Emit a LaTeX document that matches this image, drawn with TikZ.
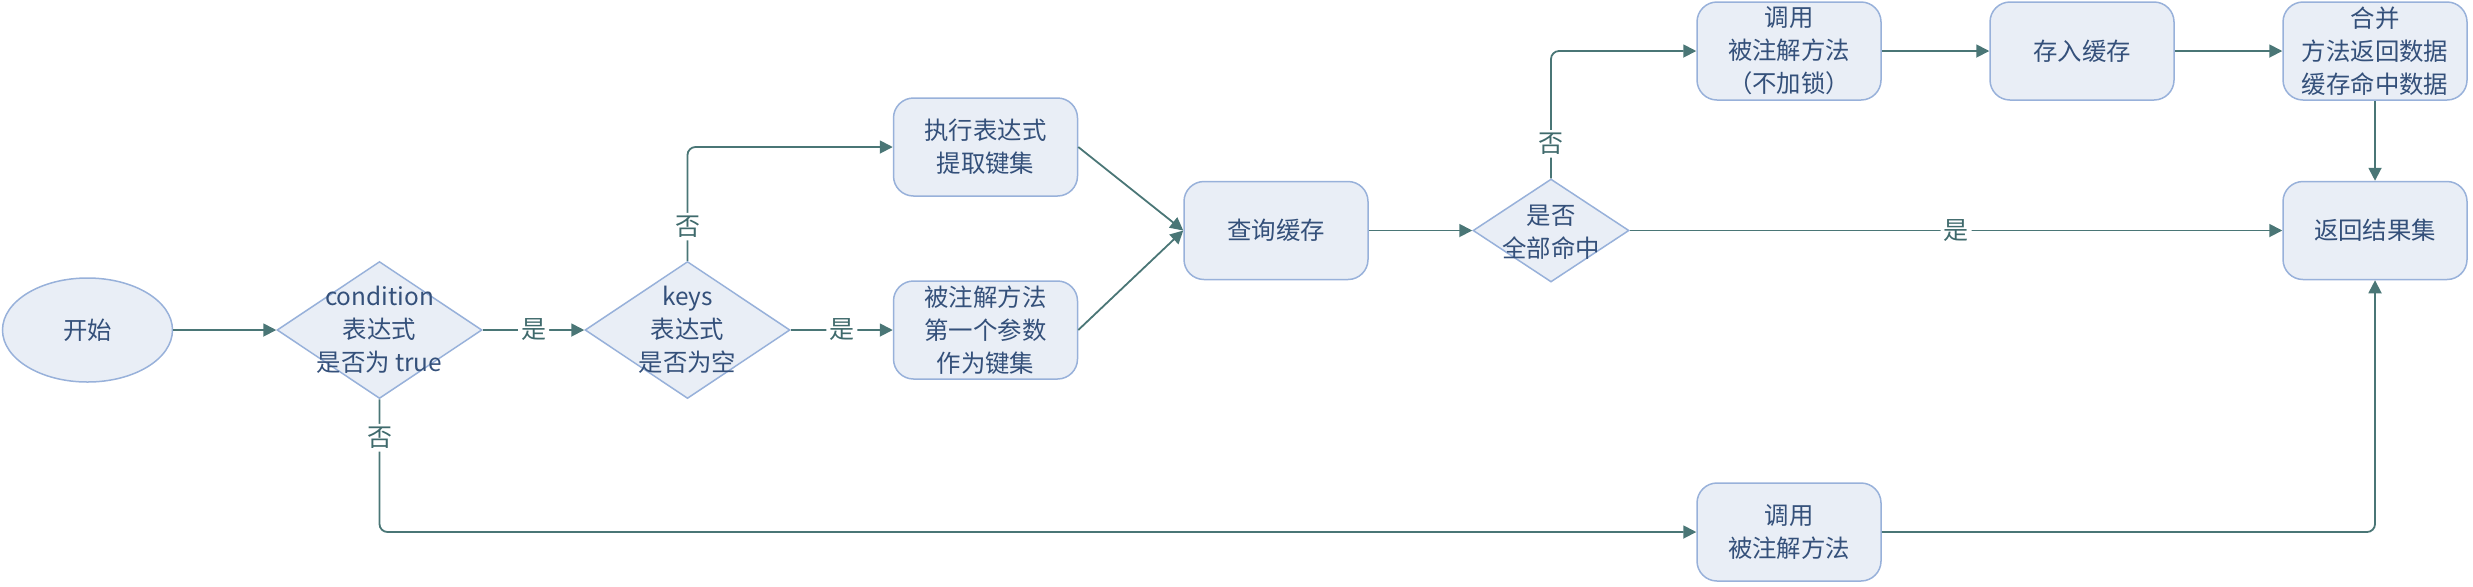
\documentclass[tikz,border=0pt]{standalone}
\usepackage{fontspec}
\setmainfont{Noto Sans CJK SC}
\usetikzlibrary{shapes.geometric,arrows.meta}
\definecolor{boxfill}{HTML}{E9EEF6}
\definecolor{boxline}{HTML}{98B1DA}
\definecolor{boxtext}{HTML}{34507A}
\definecolor{arrowc}{HTML}{4A7676}
\definecolor{lbltext}{HTML}{3F6A6C}
\begin{document}
\begin{tikzpicture}[x=0.5pt,y=-0.5pt,
  txt/.style={text=boxtext,font=\fontsize{12.2}{16.5}\selectfont,align=center,inner sep=0pt},
  base/.style={txt,fill=boxfill,draw=boxline,line width=0.75pt},
  procbox/.style={base,rectangle,rounded corners=10pt,minimum width=92pt,minimum height=49pt},
  startell/.style={base,ellipse,minimum width=85pt,minimum height=52pt},
  decision/.style={base,diamond},
  conn/.style={draw=arrowc,line width=0.9pt,rounded corners=4pt,-{Triangle[length=6.5pt,width=6.5pt]}},
  lbl/.style={fill=white,text=lbltext,font=\fontsize{12.5}{14}\selectfont,inner sep=1.5pt}]
\useasboundingbox (0,0) rectangle (2473,586);

% nodes
\node[startell] (start) at (87.5,330) {开始};
\node[decision,minimum width=102.5pt,minimum height=68.5pt] (cond) at (379.5,330) {};
\node[txt] (condT) at (cond) {condition\\表达式\\是否为 true};
\node[decision,minimum width=102.5pt,minimum height=68.5pt] (keys) at (687.5,330) {};
\node[txt] (keysT) at (keys) {keys\\表达式\\是否为空};
\node[procbox] (b1) at (985.5,147) {执行表达式\\提取键集};
\node[procbox] (b2) at (985.5,330) {被注解方法\\第一个参数\\作为键集};
\node[procbox] (query) at (1276,230.5) {查询缓存};
\node[decision,minimum width=78pt,minimum height=51.5pt] (d2) at (1551,230.5) {};
\node[txt] (d2T) at (1551,232) {是否\\全部命中};
\node[procbox] (call1) at (1789,51) {调用\\被注解方法\\（不加锁）};
\node[procbox] (store) at (2082,51) {存入缓存};
\node[procbox] (merge) at (2375,51) {合并\\方法返回数据\\缓存命中数据};
\node[procbox] (ret) at (2375,230.5) {返回结果集};
\node[procbox] (call2) at (1789,532) {调用\\被注解方法};

% connectors
\draw[conn] (start.east) -- (cond.west);
\draw[conn] (cond.east) -- node[lbl]{是} (keys.west);
\draw[conn] (keys.east) -- node[lbl]{是} (b2.west);
\draw[conn] (keys.north) -- node[lbl,pos=0.3]{否} (keys.north |- b1.west) -- (b1.west);
\draw[conn] (b1.east) -- (query.west);
\draw[conn] (b2.east) -- (query.west);
\draw[conn] (query.east) -- (d2.west);
\draw[conn] (d2.north) -- node[lbl,pos=0.27]{否} (d2.north |- call1.west) -- (call1.west);
\draw[conn] (call1.east) -- (store.west);
\draw[conn] (store.east) -- (merge.west);
\draw[conn] (merge.south) -- (ret.north);
\draw[conn] (d2.east) -- node[lbl]{是} (ret.west);
\draw[conn] (cond.south) -- node[lbl,pos=0.29]{否} (cond.south |- call2.west) -- (call2.west);
\draw[conn] (call2.east) -- (call2.east -| ret.south) -- (ret.south);
\end{tikzpicture}
\end{document}
